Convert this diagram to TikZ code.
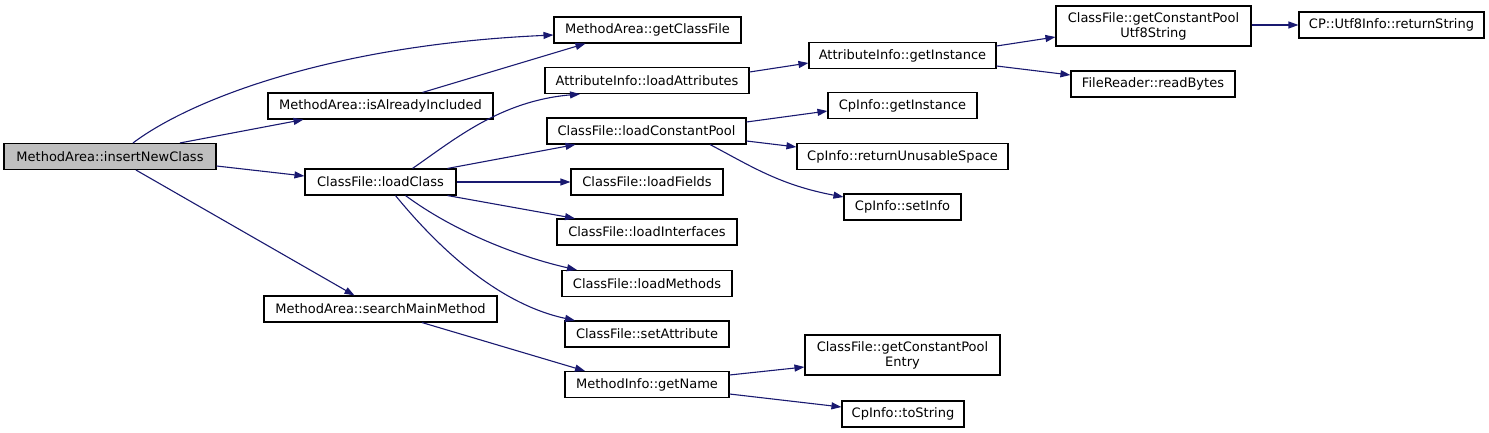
\documentclass[tikz,border=0pt]{standalone}
\usepackage{fontspec}
\setmainfont{DejaVu Sans}
\usetikzlibrary{arrows.meta,calc}
\definecolor{edgeblue}{HTML}{191970}
\definecolor{graybg}{HTML}{BFBFBF}
\tikzset{
  fnbox/.style={draw=black, line width=1.1pt, fill=white, inner sep=0pt, minimum height=26pt, align=center, font=\fontsize{13}{15}\selectfont},
  call/.style={draw=edgeblue, line width=1.1pt, -{Triangle[length=10pt,width=7pt]}}
}
\begin{document}
\begin{tikzpicture}[x=1pt,y=-1pt]
\useasboundingbox (0,0) rectangle (1489,433);
% nodes
\node[fnbox, minimum width=212pt, fill=graybg] (ins) at (110,156.5) {MethodArea::insertNewClass};
\node[fnbox, minimum width=187pt] (gcf) at (647.5,30) {MethodArea::getClassFile};
\node[fnbox, minimum width=225pt] (iai) at (380.5,106) {MethodArea::isAlreadyIncluded};
\node[fnbox, minimum width=204pt] (la) at (647,80.5) {AttributeInfo::loadAttributes};
\node[fnbox, minimum width=199pt] (lcp) at (646.5,131) {ClassFile::loadConstantPool};
\node[fnbox, minimum width=151pt] (lc) at (380.5,182) {ClassFile::loadClass};
\node[fnbox, minimum width=152pt] (lf) at (647,182) {ClassFile::loadFields};
\node[fnbox, minimum width=180pt] (li) at (647,232) {ClassFile::loadInterfaces};
\node[fnbox, minimum width=170pt] (lm) at (647,283.5) {ClassFile::loadMethods};
\node[fnbox, minimum width=164pt] (sa) at (647,334) {ClassFile::setAttribute};
\node[fnbox, minimum width=233pt] (smm) at (380.5,309) {MethodArea::searchMainMethod};
\node[fnbox, minimum width=164pt] (gn) at (647,384.5) {MethodInfo::getName};
\node[fnbox, minimum width=187pt] (agi) at (902.5,55.5) {AttributeInfo::getInstance};
\node[fnbox, minimum width=149pt] (cgi) at (902.5,105.5) {CpInfo::getInstance};
\node[fnbox, minimum width=211pt] (rus) at (902.5,156.5) {CpInfo::returnUnusableSpace};
\node[fnbox, minimum width=117pt] (si) at (902.5,207) {CpInfo::setInfo};
\node[fnbox, minimum width=195pt, minimum height=40pt] (gcpu) at (1153.5,26) {ClassFile::getConstantPool\\Utf8String};
\node[fnbox, minimum width=164pt] (rb) at (1153,84) {FileReader::readBytes};
\node[fnbox, minimum width=185pt] (rs) at (1391.5,25) {CP::Utf8Info::returnString};
\node[fnbox, minimum width=195pt, minimum height=40pt] (gcpe) at (902.5,355) {ClassFile::getConstantPool\\Entry};
\node[fnbox, minimum width=122pt] (ts) at (903,414) {CpInfo::toString};
% edges
\draw[call] ($(ins.north)+(23,0)$) .. controls +(57,-43) and +(-223,10) .. ($(gcf.west)+(0,5)$);
\draw[call] ($(ins.north)+(70,0)$) -- ($(iai.south)+(-77,0)$);
\draw[call] ($(ins.east)+(0,9.5)$) -- ($(lc.west)+(0,-6)$);
\draw[call] ($(ins.south)+(26,0)$) -- ($(smm.north)+(-26,0)$);
\draw[call] ($(iai.north)+(42,0)$) -- ($(gcf.south)+(-62,0)$);
\draw[call] ($(lc.north)+(32,0)$) .. controls +(42,-29) and +(-80,7) .. ($(la.south)+(-67,0)$);
\draw[call] ($(lc.north)+(67,0)$) -- ($(lcp.south)+(-71,0)$);
\draw[call] (lc.east) -- (lf.west);
\draw[call] ($(lc.south)+(67,0)$) -- ($(li.north)+(-72,0)$);
\draw[call] ($(lc.south)+(25,0)$) .. controls +(50,37) and +(-57,-13) .. ($(lm.north)+(-70,0)$);
\draw[call] ($(lc.south)+(15,0)$) .. controls +(45,55) and +(-75,-16) .. ($(sa.north)+(-72,0)$);
\draw[call] ($(la.east)+(0,-8.5)$) -- ($(agi.west)+(0,7.5)$);
\draw[call] ($(lcp.east)+(0,-9)$) -- ($(cgi.west)+(0,5.5)$);
\draw[call] ($(lcp.east)+(0,10)$) -- ($(rus.west)+(0,-9.5)$);
\draw[call] ($(lcp.south)+(63.5,0)$) .. controls +(40,21) and +(-64,-12) .. ($(si.west)+(0,-10)$);
\draw[call] ($(agi.east)+(0,-9.5)$) -- ($(gcpu.west)+(0,11)$);
\draw[call] ($(agi.east)+(0,10.5)$) -- ($(rb.west)+(0,-9)$);
\draw[call] ($(gcpu.east)+(0,-1)$) -- (rs.west);
\draw[call] ($(smm.south)+(41.5,0)$) -- ($(gn.north)+(-62,0)$);
\draw[call] ($(gn.east)+(0,-9.5)$) -- ($(gcpe.west)+(0,12)$);
\draw[call] ($(gn.east)+(0,9.5)$) -- ($(ts.west)+(0,-7)$);
\end{tikzpicture}
\end{document}
